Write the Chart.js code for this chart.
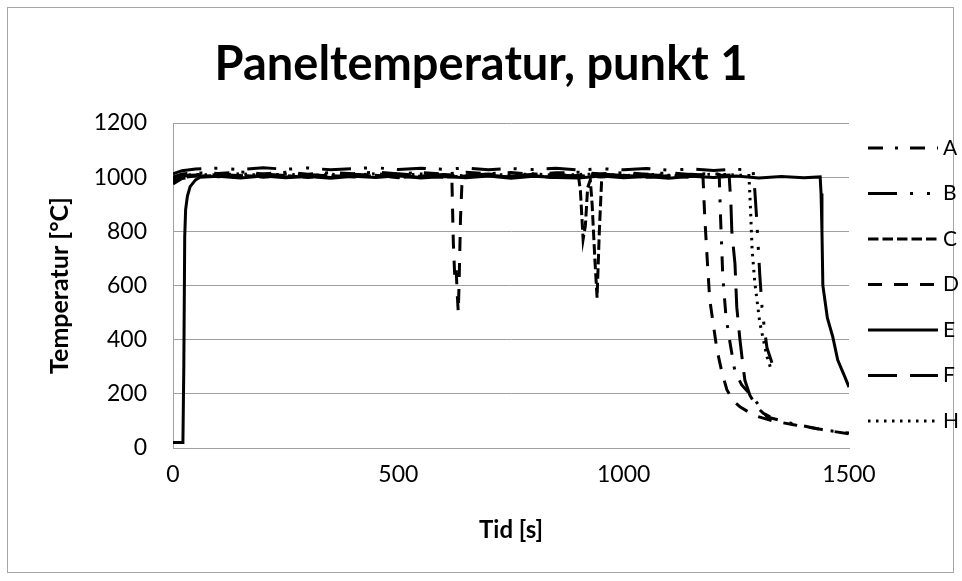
<!DOCTYPE html>
<html>
<head>
<meta charset="utf-8">
<script src="https://cdn.jsdelivr.net/npm/chart.js@4.4.1/dist/chart.umd.min.js"></script>
<style>
  html, body { margin: 0; padding: 0; background: #fff; }
  #wrap { width: 962px; height: 581px; }
</style>
</head>
<body>
<div id="wrap"><canvas id="c" width="962" height="581"></canvas></div>
<script>
// Paneltemperatur, punkt 1 — tid [s] mot temperatur [°C], serie A–H
var labels = ['A', 'B', 'C', 'D', 'E', 'F', 'H'];
var yTicks = [0, 200, 400, 600, 800, 1000, 1200];
var xTicks = [0, 500, 1000, 1500];

// [tid, temperatur]
var serieA = [[0,1000],[20,1012],[50,1016],[100,1014],[150,1019],[200,1012],[250,1018],[300,1011],[350,1017],[400,1013],[450,1019],[500,1012],[550,1017],[600,1011],[650,1018],[700,1013],[750,1017],[800,1011],[850,1016],[900,1018],[950,1012],[1000,1017],[1050,1011],[1100,1016],[1150,1010],[1200,1014],[1212,1010],[1215,850],[1220,633],[1227,485],[1236,389],[1247,281],[1262,233],[1291,178],[1318,115],[1369,92],[1442,67],[1500,55]];
var serieB = [[0,1012],[20,1024],[50,1030],[100,1033],[150,1028],[200,1035],[250,1029],[300,1034],[350,1027],[400,1032],[450,1035],[500,1028],[550,1033],[600,1029],[650,1034],[700,1027],[750,1032],[800,1028],[850,1033],[900,1026],[950,1031],[1000,1027],[1050,1032],[1100,1026],[1150,1030],[1200,1025],[1250,1029],[1287,1027],[1291,950],[1295,850],[1298,760],[1302,640],[1307,520],[1313,430],[1318,370],[1324,340],[1329,315]];
var serieC = [[0,985],[20,998],[50,1004],[100,1002],[150,1007],[200,1000],[250,1006],[300,999],[350,1005],[400,1001],[450,1007],[500,998],[550,1004],[600,1000],[650,1004],[700,1006],[750,1000],[800,1005],[850,999],[895,1003],[900,1000],[904,950],[910,770],[915,820],[920,960],[926,990],[930,900],[936,700],[941,555],[946,800],[951,985],[956,1003],[1000,1006],[1050,1000],[1100,1005],[1150,1002]];
var serieD = [[0,975],[20,995],[50,1003],[100,1006],[150,1000],[200,1007],[250,1001],[300,1005],[350,999],[400,1006],[450,1002],[500,1005],[550,999],[600,1006],[615,1003],[619,980],[622,760],[625,640],[628,670],[631,560],[633,500],[635,620],[638,850],[641,970],[646,1003],[700,1007],[750,1000],[800,1005],[850,999],[900,1006],[950,1001],[1000,1007],[1050,1000],[1100,1005],[1150,999],[1176,1002],[1180,850],[1186,680],[1191,548],[1207,363],[1218,280],[1229,215],[1243,175],[1258,152],[1290,120],[1330,100],[1380,85],[1440,68],[1500,52]];
var serieE = [[0,20],[22,20],[24,300],[26,780],[28,880],[32,930],[38,965],[50,990],[60,1000],[100,1003],[150,997],[200,1004],[250,998],[300,1002],[350,996],[400,1003],[450,999],[500,1005],[550,997],[600,1002],[650,998],[700,1004],[750,996],[800,1003],[850,999],[900,997],[950,1004],[1000,998],[1050,1002],[1100,996],[1150,1003],[1200,999],[1250,1004],[1300,997],[1350,1002],[1400,998],[1436,1001],[1438,940],[1440,800],[1442,600],[1452,480],[1464,410],[1475,325],[1491,262],[1500,225]];
var serieF = [[0,990],[20,1005],[50,1008],[100,1011],[150,1005],[200,1012],[250,1006],[300,1010],[350,1004],[400,1011],[450,1007],[500,1013],[550,1005],[600,1010],[650,1006],[700,1012],[750,1004],[800,1011],[850,1007],[900,1005],[950,1012],[1000,1006],[1050,1010],[1100,1004],[1150,1011],[1200,1006],[1234,1008],[1238,900],[1240,800],[1247,680],[1251,520],[1258,400],[1265,300],[1269,250],[1280,195],[1296,150],[1310,128],[1325,115]];
var serieH = [[0,995],[20,1006],[50,1010],[100,1008],[150,1013],[200,1006],[250,1012],[300,1005],[350,1011],[400,1007],[450,1013],[500,1006],[550,1012],[600,1008],[650,1005],[700,1011],[750,1007],[800,1013],[850,1006],[900,1010],[950,1012],[1000,1005],[1050,1011],[1100,1007],[1150,1006],[1200,1012],[1250,1008],[1278,1006],[1281,900],[1285,733],[1291,611],[1302,463],[1318,337],[1329,281]];

var serier = [serieA, serieB, serieC, serieD, serieE, serieF, serieH];
var streck = [[15, 12, 3, 12], [29, 13, 3, 14, 3, 13], [10.5, 4], [14, 12], [], [29, 13], [2.5, 5.5]];

var FONT = "Lato, 'Open Sans', sans-serif";
var GRID = '#a0a0a0';

var datasets = serier.map(function (s, i) {
  return {
    label: labels[i],
    data: s.map(function (p) { return { x: p[0], y: p[1] }; }),
    borderColor: '#000',
    borderWidth: 3,
    borderDash: streck[i],
    borderCapStyle: 'butt',
    pointRadius: 0,
    tension: 0,
    fill: false
  };
});

// ram runt hela diagrammet
var ram = {
  id: 'ram',
  beforeDraw: function (chart) {
    var ctx = chart.ctx;
    ctx.save();
    ctx.fillStyle = '#fff';
    ctx.fillRect(0, 0, chart.width, chart.height);
    ctx.strokeStyle = '#a6a6a6';
    ctx.lineWidth = 1;
    ctx.strokeRect(7.5, 7.5, chart.width - 16, chart.height - 16);
    ctx.restore();
  }
};

// förklaring till höger med linjeprover
var forklaring = {
  id: 'forklaring',
  afterDraw: function (chart) {
    var ctx = chart.ctx, a = chart.chartArea;
    ctx.save();
    ctx.font = '21px ' + FONT;
    ctx.textBaseline = 'middle';
    ctx.fillStyle = '#000';
    chart.data.datasets.forEach(function (ds, i) {
      var y = a.top + 25 + i * 45.5;
      ctx.beginPath();
      ctx.setLineDash(ds.borderDash);
      ctx.lineWidth = 3;
      ctx.strokeStyle = '#000';
      ctx.moveTo(a.right + 19, y);
      ctx.lineTo(a.right + 89, y);
      ctx.stroke();
      ctx.fillText(ds.label, a.right + 94, y);
    });
    ctx.restore();
  }
};

var heltal = function (v) { return String(v); };

new Chart(document.getElementById('c'), {
  type: 'line',
  data: { datasets: datasets },
  plugins: [ram, forklaring],
  options: {
    responsive: false,
    animation: false,
    devicePixelRatio: 1,
    layout: { padding: 0 },
    plugins: {
      legend: { display: false },
      tooltip: { enabled: false },
      title: {
        display: true,
        text: 'Paneltemperatur, punkt 1',
        color: '#000',
        font: { family: FONT, size: 47, weight: 'bold', lineHeight: 1.2 },
        padding: { top: 37, bottom: 29.6 }
      }
    },
    scales: {
      x: {
        type: 'linear',
        min: 0, max: 1500,
        afterBuildTicks: function (s) { s.ticks = xTicks.map(function (v) { return { value: v }; }); },
        afterFit: function (s) { s.height = 133; },
        grid: { display: false, drawTicks: false },
        border: { display: true, color: GRID },
        ticks: { color: '#000', padding: 13, maxRotation: 0, callback: heltal, font: { family: FONT, size: 23 } },
        title: { display: true, text: 'Tid [s]', color: '#000', font: { family: FONT, size: 24, weight: 'bold' }, padding: { top: 0, bottom: 36 } }
      },
      y: {
        min: 0, max: 1200,
        afterBuildTicks: function (s) { s.ticks = yTicks.map(function (v) { return { value: v }; }); },
        afterFit: function (s) { s.width = 173; },
        grid: { color: GRID, drawTicks: false },
        border: { display: true, color: GRID },
        ticks: { color: '#000', padding: 26, callback: heltal, font: { family: FONT, size: 23 } },
        title: { display: true, text: 'Temperatur [°C]', color: '#000', font: { family: FONT, size: 25, weight: 'bold' }, padding: { top: 45, bottom: 0 } }
      },
      // tom plats till höger för förklaringen
      y2: {
        position: 'right',
        display: true,
        afterFit: function (s) { s.width = 113; },
        grid: { display: false, drawTicks: false },
        border: { display: false },
        ticks: { display: false }
      }
    }
  }
});
</script>
</body>
</html>
